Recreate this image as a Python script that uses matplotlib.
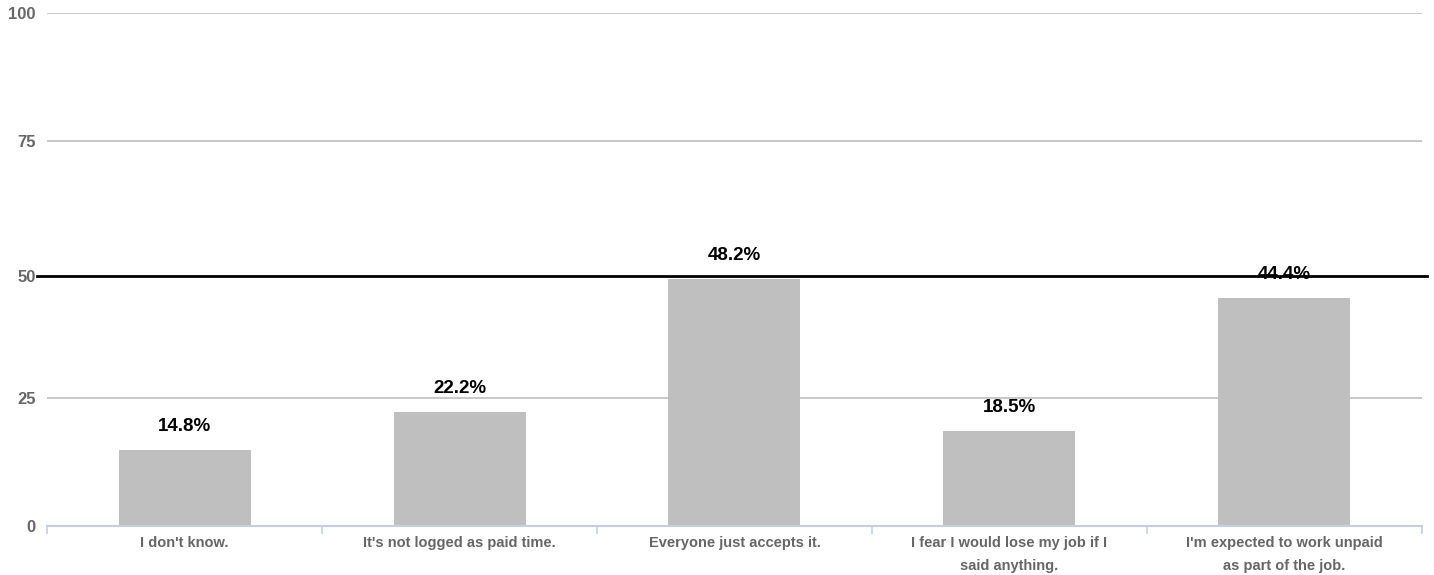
import matplotlib
matplotlib.use("Agg")
import matplotlib.pyplot as plt
from matplotlib.ticker import FixedLocator
from matplotlib.lines import Line2D

categories = [
    "I don't know.",
    "It's not logged as paid time.",
    "Everyone just accepts it.",
    "I fear I would lose my job if I\nsaid anything.",
    "I'm expected to work unpaid\nas part of the job.",
]
values = [14.8, 22.2, 48.2, 18.5, 44.4]
grid_ticks = [0, 25, 75, 100]
marker_level = 48.7
marker_label = "50"

plt.rcParams["font.family"] = ["Liberation Sans", "DejaVu Sans"]

fig = plt.figure(figsize=(14.34, 5.75), dpi=100)
ax = fig.add_axes([0.0328, 0.0852, 0.9588, 0.8922])

x = list(range(len(categories)))
ax.bar(x, values, width=0.48, color="#bfbfbf", zorder=2)

for xi, v in zip(x, values):
    ax.annotate(f"{v:.1f}%", (xi, v), xytext=(0, 17), textcoords="offset points",
                ha="center", va="center", fontsize=13.5, fontweight="bold",
                color="black", zorder=3)

ax.set_xlim(-0.5, len(categories) - 0.5)
ax.set_ylim(0, 100)

yticks = sorted(grid_ticks + [marker_level])
ylabels = [marker_label if t == marker_level else str(t) for t in yticks]
ax.set_yticks(yticks)
ax.set_yticklabels(ylabels, fontsize=12, fontweight="bold", color="#666666")
ax.tick_params(axis="y", length=0, pad=8)

ax.set_xticks(x)
ax.set_xticklabels(categories, fontsize=10.5, fontweight="bold", color="#666666",
                   linespacing=1.8)
ax.tick_params(axis="x", which="major", length=0, pad=7)
ax.xaxis.set_minor_locator(FixedLocator([i - 0.5 for i in range(len(categories) + 1)]))
ax.tick_params(axis="x", which="minor", length=6, width=1.2, color="#c3d0e2")

for t in grid_ticks[1:]:
    ax.axhline(t, color="#c4c4c4", linewidth=1.3, zorder=1)

# Black reference line, reaching slightly past the plot area on both sides
ref = Line2D([-0.535, 4.52], [marker_level, marker_level], color="black",
             linewidth=2.0, zorder=5, clip_on=False)
ax.add_line(ref)

for side in ["top", "right", "left"]:
    ax.spines[side].set_visible(False)
ax.spines["bottom"].set_color("#c3d0e2")
ax.spines["bottom"].set_linewidth(1.5)

fig.savefig("out.png", dpi=100)
